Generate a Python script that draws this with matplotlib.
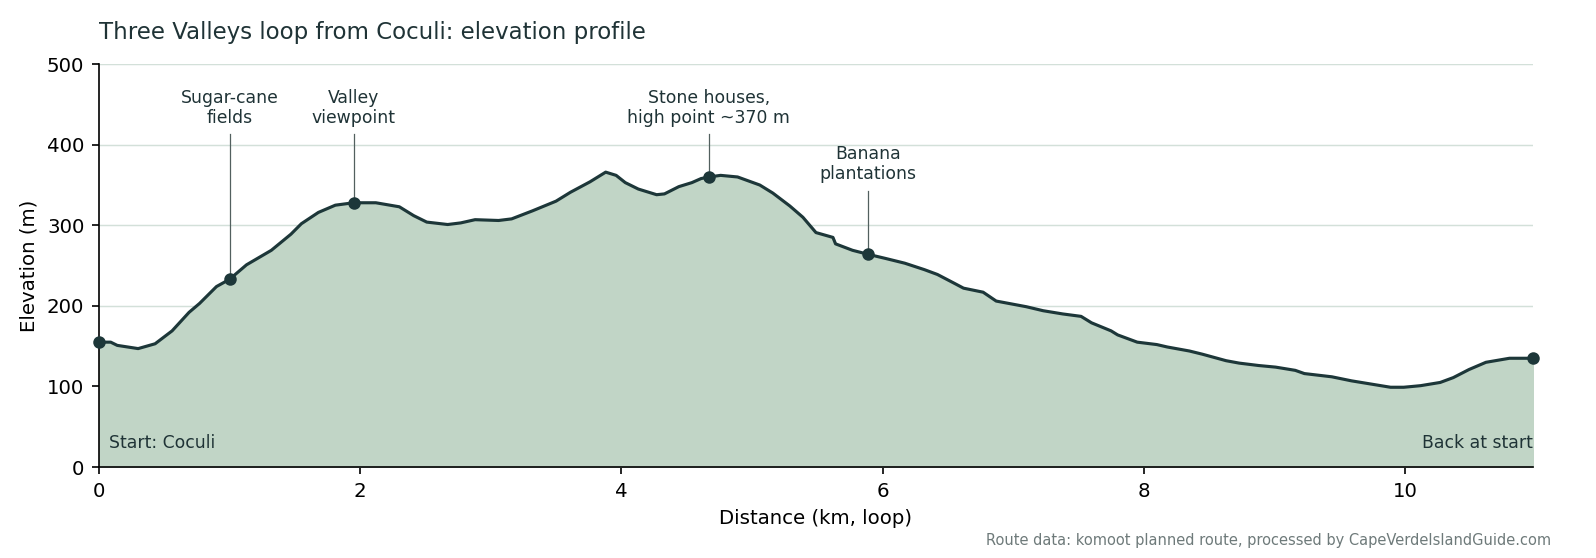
import numpy as np
import matplotlib
matplotlib.use("Agg")
import matplotlib.pyplot as plt

# Perfil de elevación
dist_km = [0.00, 0.09, 0.14, 0.30, 0.43, 0.56, 0.69, 0.77, 0.90, 1.00,
           1.13, 1.32, 1.47, 1.55, 1.68, 1.81, 1.95, 2.12, 2.30, 2.41,
           2.51, 2.67, 2.77, 2.88, 3.06, 3.16, 3.32, 3.50, 3.61, 3.76,
           3.88, 3.96, 4.03, 4.13, 4.27, 4.33, 4.44, 4.54, 4.61, 4.67,
           4.76, 4.89, 5.06, 5.16, 5.29, 5.39, 5.49, 5.62, 5.64, 5.77,
           5.89, 6.02, 6.17, 6.32, 6.42, 6.55, 6.62, 6.77, 6.87, 7.10,
           7.23, 7.38, 7.52, 7.60, 7.75, 7.80, 7.95, 8.10, 8.18, 8.35,
           8.45, 8.63, 8.73, 8.88, 9.01, 9.16, 9.23, 9.44, 9.59, 9.74,
           9.89, 9.99, 10.12, 10.27, 10.37, 10.49, 10.62, 10.80, 10.98]
elev_m = [155, 155, 151, 147, 153, 169, 192, 203, 224, 233,
          251, 269, 289, 302, 316, 325, 328, 328, 323, 312,
          304, 301, 303, 307, 306, 308, 318, 330, 341, 354,
          366, 362, 353, 345, 338, 339, 348, 353, 358, 360,
          362, 360, 350, 340, 324, 310, 291, 285, 277, 269,
          264, 259, 253, 245, 239, 228, 222, 217, 206, 199,
          194, 190, 187, 179, 169, 164, 155, 152, 149, 144,
          140, 132, 129, 126, 124, 120, 116, 112, 107, 103,
          99, 99, 101, 105, 111, 121, 130, 135, 135]

# Puntos de interés
poi_km = [1.00, 1.95, 4.67, 5.89]
poi_labels = ["Sugar-cane\nfields", "Valley\nviewpoint",
              "Stone houses,\nhigh point ~370 m", "Banana\nplantations"]
poi_text_y = [422, 422, 422, 352]

fill_col = "#c1d5c6"
line_col = "#1d3739"
text_col = "#1f3336"

fig = plt.figure(figsize=(10.64, 3.72), dpi=150)
ax = fig.add_axes([0.062, 0.163, 0.8985, 0.722])

x = np.array(dist_km)
y = np.array(elev_m)

ax.fill_between(x, 0, y, color=fill_col, zorder=2)
ax.plot(x, y, color=line_col, lw=1.5, zorder=3)

# Inicio y final
ax.plot([x[0], x[-1]], [y[0], y[-1]], "o", color=line_col, ms=5, zorder=4,
        clip_on=False)

for km, lab, ty in zip(poi_km, poi_labels, poi_text_y):
    e = np.interp(km, x, y)
    ax.plot(km, e, "o", color=line_col, ms=5, zorder=4)
    ax.plot([km, km], [e, ty - 9], color="#52605f", lw=0.6, zorder=3)
    ax.text(km, ty, lab, ha="center", va="bottom", fontsize=8.3,
            color=text_col, linespacing=1.15, zorder=5)

ax.text(0.08, 30, "Start: Coculi", ha="left", va="center", fontsize=8.3,
        color=text_col, zorder=5)
ax.text(x[-1], 30, "Back at start", ha="right", va="center", fontsize=8.3,
        color=text_col, zorder=5)

ax.set_xlim(0, x[-1])
ax.set_ylim(0, 500)
ax.set_yticks([0, 100, 200, 300, 400, 500])
ax.grid(True, axis="y", color="#d3e0d9", lw=0.7, zorder=1)
ax.set_axisbelow(True)
for s in ["top", "right"]:
    ax.spines[s].set_visible(False)
ax.tick_params(labelsize=9.5)
ax.set_xlabel("Distance (km, loop)", fontsize=9.5)
ax.set_ylabel("Elevation (m)", fontsize=9.5)
ax.set_title("Three Valleys loop from Coculi: elevation profile",
             loc="left", fontsize=11, color=text_col, pad=12)

fig.text(0.972, 0.018, "Route data: komoot planned route, processed by CapeVerdeIslandGuide.com",
         ha="right", va="bottom", fontsize=7, color="#6e7a7a")

fig.savefig("out.png", dpi=150)
